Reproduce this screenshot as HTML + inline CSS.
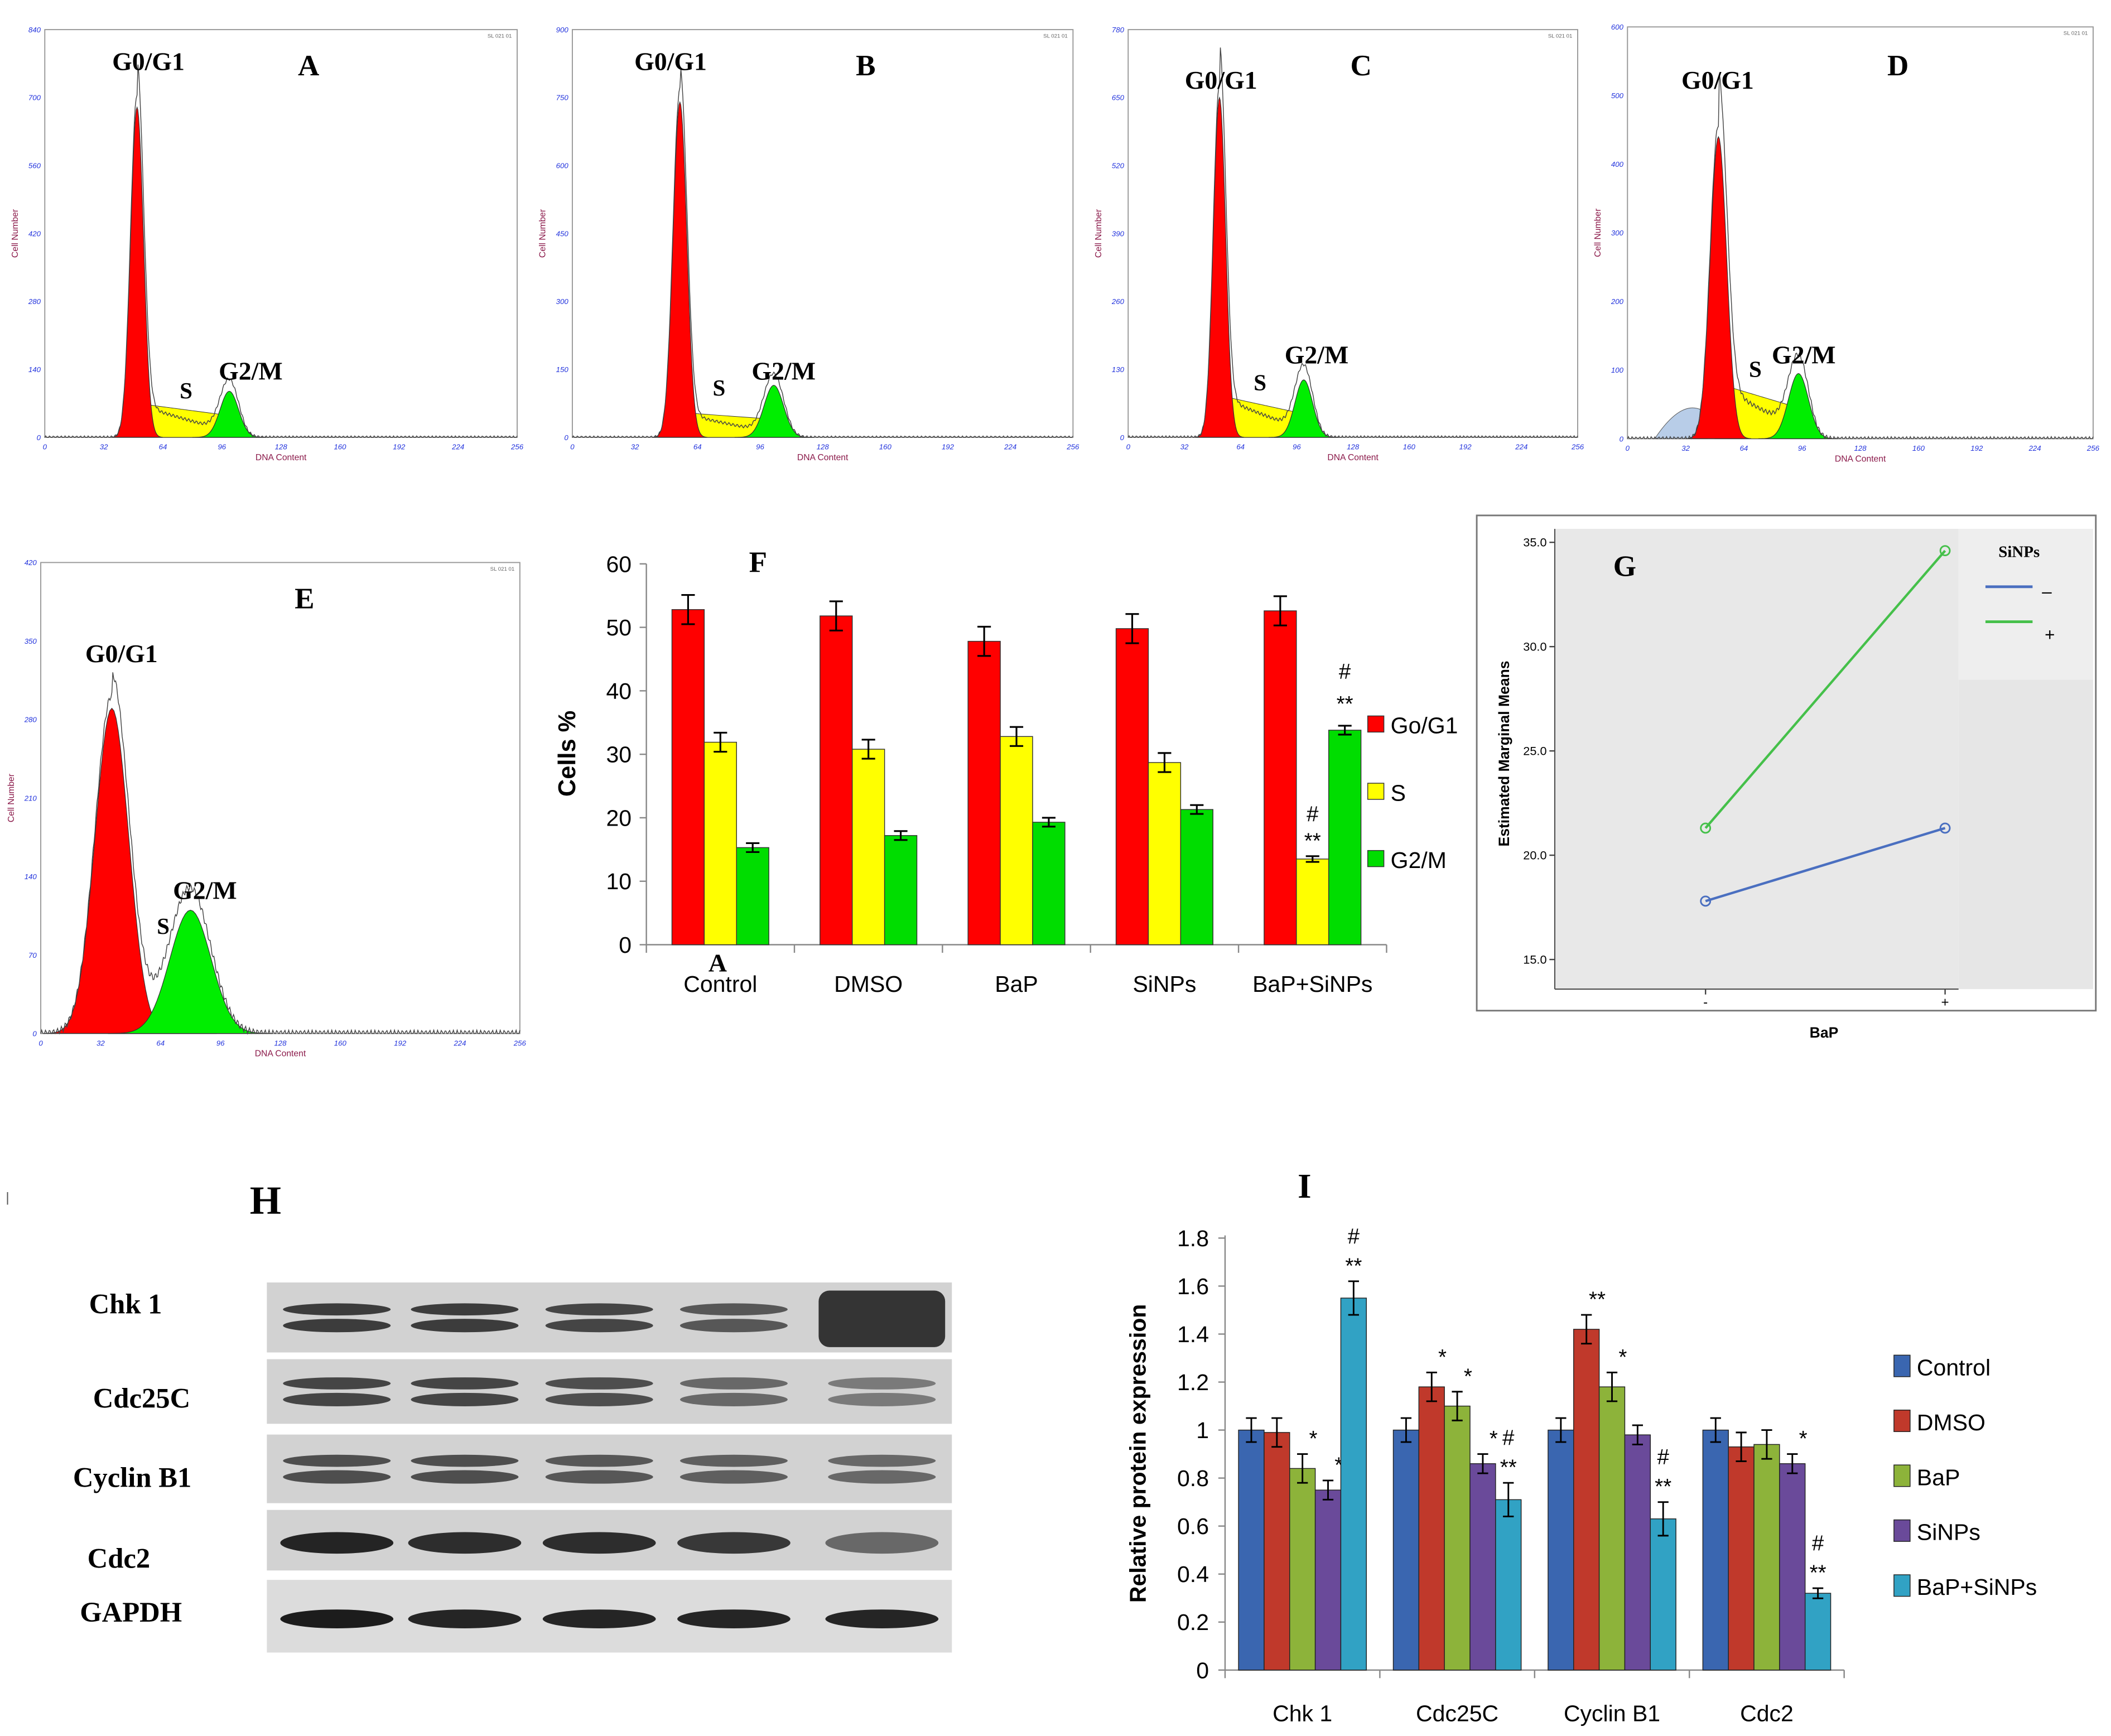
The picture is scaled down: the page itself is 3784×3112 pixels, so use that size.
<!DOCTYPE html>
<html><head><meta charset="utf-8">
<style>
html,body{margin:0;padding:0;background:#fff;}
svg{display:block;}
text{font-family:"Liberation Sans",sans-serif;}
.ser{font-family:"Liberation Serif",serif;font-weight:bold;}
</style></head>
<body>
<svg id="fig" width="3784" height="3112" viewBox="0 0 1568 1290" xmlns="http://www.w3.org/2000/svg">
<rect width="1568" height="1290" fill="#fff"/>
</svg>
<script>
// ---------- Data ----------
const histNames = ['A','B','C','D','E'];
const histYMax = [840, 900, 780, 600, 420];
const histG1Center = [50, 55, 52, 50, 38];
const histG1Height = [680, 740, 650, 440, 290];
const histG1Sigma = [3.5, 3.5, 3.5, 4.5, 9];
const histG2Center = [100, 103, 100, 94, 80];
const histG2Height = [95, 115, 110, 95, 110];
const histG2Sigma = [5, 5, 5, 5.5, 11];
const histSStart = [70, 55, 80, 80, 20];
const histSEnd = [45, 40, 45, 45, 10];
// F bar chart
const fCategories = ['Control','DMSO','BaP','SiNPs','BaP+SiNPs'];
const fG1 = [52.8, 51.8, 47.8, 49.8, 52.6];
const fS = [31.9, 30.8, 32.8, 28.7, 13.5];
const fG2 = [15.3, 17.2, 19.3, 21.3, 33.8];
const fErr = [2.3, 1.5, 0.7];
const fTicks = [0,10,20,30,40,50,60];
// G interaction plot
const gX = ['-','+'];
const gMinus = [17.8, 21.3];
const gPlus = [21.3, 34.6];
const gTicks = [15.0, 20.0, 25.0, 30.0, 35.0];
// I bar chart
const iCategories = ['Chk 1','Cdc25C','Cyclin B1','Cdc2'];
const iSeries = ['Control','DMSO','BaP','SiNPs','BaP+SiNPs'];
const iControl = [1, 1, 1, 1];
const iDMSO = [0.99, 1.18, 1.42, 0.93];
const iBaP = [0.84, 1.10, 1.18, 0.94];
const iSiNPs = [0.75, 0.86, 0.98, 0.86];
const iBoth = [1.55, 0.71, 0.63, 0.32];
const iErr = [0.05, 0.06, 0.06, 0.04, 0.07];
const iTicks = [0,0.2,0.4,0.6,0.8,1,1.2,1.4,1.6,1.8];
const iMarks = [['','','*','*','#\n**'],['','*','*','*','#\n**'],['','**','*','','#\n**'],['','','','*','#\n**']];

const svg = document.getElementById('fig');
const NS = 'http://www.w3.org/2000/svg';
function el(tag, attrs, parent, txt){
  const e = document.createElementNS(NS, tag);
  for (const k in attrs) e.setAttribute(k, attrs[k]);
  if (txt !== undefined) e.textContent = txt;
  (parent || svg).appendChild(e);
  return e;
}
function grp(name){
  const g = el('g', {});
  
  
  return g;
}

// ---------- Histograms ----------
const histBoxes = [[33,22,384,325],[425,22,797,325],[838,22,1172,325],[1209,20,1555,326],[30,418,386,768]];
const histLabelPos = [
  {g1:[110,52], s:[138,296], g2:[186,282], L:[229,56]},
  {g1:[498,52], s:[534,294], g2:[582,282], L:[643,56]},
  {g1:[907,66], s:[936,290], g2:[978,270], L:[1011,56]},
  {g1:[1276,66], s:[1304,280], g2:[1340,270], L:[1410,56]},
  {g1:[90,492], s:[121,694], g2:[152,668], L:[226,452]}
];
function gauss(x,c,s,h){return h*Math.exp(-0.5*((x-c)/s)**2);}
histNames.forEach((nm, i) => {
  const [x0,y0,x1,y1] = histBoxes[i];
  const g = grp('histogram-' + nm.toLowerCase());
  const sx = v => x0 + v/256*(x1-x0);
  const sy = v => y1 - v/histYMax[i]*(y1-y0);
  el('rect',{x:x0,y:y0,width:x1-x0,height:y1-y0,fill:'#fff',stroke:'#999','stroke-width':0.8},g);
  const c1 = histG1Center[i], c2 = histG2Center[i];
  const sPts = [];
  for (let v=c1-2; v<=c2+14; v+=1){
    const t = Math.min(1, Math.max(0,(v-c1)/(c2-c1)));
    let h = histSStart[i] + (histSEnd[i]-histSStart[i])*t;
    if (v > c2) h *= Math.max(0, 1-(v-c2)/14);
    sPts.push([v,h]);
  }
  el('path',{d:'M'+sx(c1-2)+','+sy(0)+' '+sPts.map(p=>'L'+sx(p[0])+','+sy(p[1])).join(' ')+' L'+sx(c2+14)+','+sy(0)+'Z',fill:'#ffff00',stroke:'#333','stroke-width':0.4},g);
  if (i===3){
    el('path',{d:`M${sx(15)},${sy(0)} Q${sx(30)},${sy(60)} ${sx(42)},${sy(40)} L${sx(44)},${sy(0)}Z`,fill:'#b8cde8',stroke:'#555','stroke-width':0.4},g);
  }
  const drawPeak = (c,s,h,col,name)=>{
    let d = '';
    for (let v=c-4*s; v<=c+4*s; v+=s/8){ d += (d?'L':'M')+sx(v).toFixed(2)+','+sy(gauss(v,c,s,h)).toFixed(2)+' '; }
    const p = el('path',{d:d+'Z',fill:col,stroke:'#333','stroke-width':0.5},g);
    
    
  };
  drawPeak(c1, histG1Sigma[i], histG1Height[i], '#ff0000', 'g0g1-peak');
  drawPeak(c2, histG2Sigma[i], histG2Height[i], '#00ee00', 'g2m-peak');
  let d='';
  for (let v=0; v<=256; v+=0.5){
    let h = gauss(v,c1,histG1Sigma[i],histG1Height[i]*1.04)+gauss(v,c2,histG2Sigma[i],histG2Height[i]*1.15);
    if (v>c1 && v<c2+10) h += histSStart[i]*0.95*Math.max(0,1-(v-c1)/(c2-c1+10));
    h += 3*Math.sin(v*3);
    d += (d?'L':'M')+sx(v).toFixed(2)+','+sy(Math.max(0,h)).toFixed(2)+' ';
  }
  el('path',{d,fill:'none',stroke:'#444','stroke-width':0.6},g);
  for (let k=0;k<=6;k++){
    const val = histYMax[i]/6*k;
    el('text',{x:x0-3,y:sy(val)+2,'font-size':5.5,fill:'#2233dd','text-anchor':'end','font-style':'italic'},g,Math.round(val));
  }
  for (let k=0;k<=8;k++){
    el('text',{x:sx(k*32),y:y1+9,'font-size':5.5,fill:'#2233dd','text-anchor':'middle','font-style':'italic'},g,k*32);
  }
  el('text',{x:(x0+x1)/2,y:y1+17,'font-size':6.5,fill:'#8b1a4a','text-anchor':'middle'},g,'DNA Content');
  el('text',{x:x0-20,y:(y0+y1)/2,'font-size':6.5,fill:'#8b1a4a','text-anchor':'middle',transform:`rotate(-90 ${x0-20} ${(y0+y1)/2})`},g,'Cell Number');
  el('text',{x:x1-4,y:y0+6,'font-size':4,fill:'#666','text-anchor':'end'},g,'SL 021 01');
  const L = histLabelPos[i];
  el('text',{x:L.g1[0],y:L.g1[1],'font-size':19,'text-anchor':'middle',class:'ser'},g,'G0/G1');
  el('text',{x:L.s[0],y:L.s[1],'font-size':17,'text-anchor':'middle',class:'ser'},g,'S');
  el('text',{x:L.g2[0],y:L.g2[1],'font-size':19,'text-anchor':'middle',class:'ser'},g,'G2/M');
  el('text',{x:L.L[0],y:L.L[1],'font-size':22,'text-anchor':'middle',class:'ser'},g,nm);
});

// ---------- F ----------
(function(){
  const g = grp('chart-f');
  const X0=480, X1=1030, Y0=702, Y60=419;
  const sy = v => Y0 - v/60*(Y0-Y60);
  const gw = (X1-X0)/fCategories.length;
  el('line',{x1:X0,y1:Y60,x2:X0,y2:Y0,stroke:'#888','stroke-width':1},g);
  el('line',{x1:X0,y1:Y0,x2:X1,y2:Y0,stroke:'#888','stroke-width':1},g);
  fTicks.forEach(t=>{
    el('line',{x1:X0-5,y1:sy(t),x2:X0,y2:sy(t),stroke:'#888'},g);
    el('text',{x:X0-11,y:sy(t)+6,'font-size':17,'text-anchor':'end'},g,t);
  });
  for (let k=0;k<=fCategories.length;k++) el('line',{x1:X0+k*gw,y1:Y0,x2:X0+k*gw,y2:Y0+6,stroke:'#888'},g);
  const series=[fG1,fS,fG2], cols=['#ff0000','#ffff00','#00dd00'], bw=24;
  fCategories.forEach((c,ci)=>{
    const cx = X0+gw*(ci+0.5);
    series.forEach((s,si)=>{
      const bx = cx + (si-1)*bw - bw/2;
      const r = el('rect',{x:bx,y:sy(s[ci]),width:bw,height:Y0-sy(s[ci]),fill:cols[si],stroke:'#333','stroke-width':0.6},g);
      
      
      const e=fErr[si]*(ci===4&&si===1?0.3:1), mx=bx+bw/2;
      el('path',{d:`M${mx},${sy(s[ci]+e)}V${sy(s[ci]-e)}M${mx-5},${sy(s[ci]+e)}h10M${mx-5},${sy(s[ci]-e)}h10`,stroke:'#000','stroke-width':1.3,fill:'none'},g);
    });
    el('text',{x:cx,y:Y0+35,'font-size':17,'text-anchor':'middle'},g,c);
  });
  const cx4 = X0+gw*4.5;
  el('text',{x:cx4,y:sy(fS[4])-28,'font-size':16,'text-anchor':'middle'},g,'#');
  el('text',{x:cx4,y:sy(fS[4])-8,'font-size':16,'text-anchor':'middle'},g,'**');
  el('text',{x:cx4+bw,y:sy(fG2[4])-38,'font-size':16,'text-anchor':'middle'},g,'#');
  el('text',{x:cx4+bw,y:sy(fG2[4])-14,'font-size':16,'text-anchor':'middle'},g,'**');
  el('text',{x:533,y:722,'font-size':19,'text-anchor':'middle',class:'ser'},g,'A');
  el('text',{x:563,y:425,'font-size':22,'text-anchor':'middle',class:'ser'},g,'F');
  el('text',{x:427,y:560,'font-size':18,'font-weight':'bold','text-anchor':'middle',transform:'rotate(-90 427 560)'},g,'Cells %');
  ['Go/G1','S','G2/M'].forEach((t,k)=>{
    const ly=[539,589,639][k];
    const lg = el('g',{},g);
    
    
    el('rect',{x:1016,y:ly-7,width:12,height:12,fill:cols[k],stroke:'#333','stroke-width':0.6},lg);
    el('text',{x:1033,y:ly+6,'font-size':17},lg,t);
  });
})();

// ---------- G ----------
(function(){
  const g = grp('chart-g');
  el('rect',{x:1097,y:383,width:460,height:368,fill:'#fff',stroke:'#777','stroke-width':1.2},g);
  el('rect',{x:1155,y:393,width:300,height:342,fill:'#e8e8e8'},g);
  el('rect',{x:1455,y:393,width:100,height:112,fill:'#eeeeee'},g);
  el('rect',{x:1455,y:505,width:100,height:230,fill:'#e6e6e6'},g);
  const sy = v => 713 - (v-15)/20*(713-403);
  const sx = k => [1267,1445][k];
  el('line',{x1:1155,y1:393,x2:1155,y2:735,stroke:'#444','stroke-width':0.8},g);
  el('line',{x1:1155,y1:735,x2:1455,y2:735,stroke:'#444','stroke-width':0.8},g);
  gTicks.forEach(t=>{
    el('line',{x1:1151,y1:sy(t),x2:1155,y2:sy(t),stroke:'#444'},g);
    el('text',{x:1149,y:sy(t)+3,'font-size':9,'text-anchor':'end'},g,t.toFixed(1));
  });
  gX.forEach((t,k)=>{
    el('line',{x1:sx(k),y1:735,x2:sx(k),y2:739,stroke:'#444'},g);
    el('text',{x:sx(k),y:748,'font-size':10,'text-anchor':'middle'},g,t);
  });
  [[gMinus,'#4a6fc0'],[gPlus,'#45c04a']].forEach(([s,c],k)=>{
    const l=el('line',{x1:sx(0),y1:sy(s[0]),x2:sx(1),y2:sy(s[1]),stroke:c,'stroke-width':1.8},g);
    
    
    s.forEach((v,j)=>el('circle',{cx:sx(j),cy:sy(v),r:3.5,fill:'none',stroke:c,'stroke-width':1.2},g));
  });
  el('text',{x:1500,y:414,'font-size':12,'text-anchor':'middle',class:'ser'},g,'SiNPs');
  el('line',{x1:1475,y1:436,x2:1510,y2:436,stroke:'#4a6fc0','stroke-width':2},g);
  el('text',{x:1517,y:444,'font-size':13},g,'–');
  el('line',{x1:1475,y1:462,x2:1510,y2:462,stroke:'#45c04a','stroke-width':2},g);
  el('text',{x:1519,y:476,'font-size':13},g,'+');
  el('text',{x:1121,y:560,'font-size':11,'font-weight':'bold','text-anchor':'middle',transform:'rotate(-90 1121 560)'},g,'Estimated Marginal Means');
  el('text',{x:1355,y:771,'font-size':11,'font-weight':'bold','text-anchor':'middle'},g,'BaP');
  el('text',{x:1207,y:428,'font-size':22,'text-anchor':'middle',class:'ser'},g,'G');
})();

// ---------- H ----------
(function(){
  const g = grp('western-blot-h');
  el('text',{x:197,y:902,'font-size':30,'text-anchor':'middle',class:'ser'},g,'H');
  el('text',{x:4,y:893,'font-size':10,fill:'#555'},g,'|');
  const rows=[['Chk 1',93,976,953,1005],['Cdc25C',105,1046,1010,1058],['Cyclin B1',98,1105,1066,1117],['Cdc2',88,1165,1122,1167],['GAPDH',97,1205,1174,1228]];
  const lanes=[250,345,445,545,655];
  const intens=[[0.85,0.85,0.8,0.7,1.0],[0.8,0.8,0.75,0.6,0.5],[0.75,0.75,0.7,0.65,0.6],[0.9,0.85,0.85,0.8,0.55],[0.95,0.9,0.9,0.9,0.9]];
  rows.forEach((r,ri)=>{
    el('text',{x:r[1],y:r[2],'font-size':21,'text-anchor':'middle',class:'ser'},g,r[0]);
    el('rect',{x:198,y:r[3],width:509,height:r[4]-r[3],fill:ri===4?'#dcdcdc':'#d2d2d2'},g);
    lanes.forEach((lx,li)=>{
      const a=intens[ri][li], mid=(r[3]+r[4])/2;
      if (ri===0 && li===4){ el('rect',{x:lx-47,y:r[3]+6,width:94,height:r[4]-r[3]-10,rx:8,fill:'#222',opacity:0.9},g); return; }
      if (ri<3){
        el('ellipse',{cx:lx,cy:mid-6,rx:40,ry:4.5,fill:'#222',opacity:a},g);
        el('ellipse',{cx:lx,cy:mid+6,rx:40,ry:5,fill:'#222',opacity:a},g);
      } else {
        el('ellipse',{cx:lx,cy:mid+2,rx:42,ry:ri===4?7:8,fill:'#111',opacity:a},g);
      }
    });
  });
})();

// ---------- I ----------
(function(){
  const g = grp('chart-i');
  const X0=910, X1=1370, Y0=1241, Ytop=920;
  const sy = v => Y0 - v/1.8*(Y0-Ytop);
  const gw=(X1-X0)/4;
  el('line',{x1:X0,y1:Ytop-2,x2:X0,y2:Y0,stroke:'#888'},g);
  el('line',{x1:X0,y1:Y0,x2:X1,y2:Y0,stroke:'#888'},g);
  iTicks.forEach(t=>{
    el('line',{x1:X0-5,y1:sy(t),x2:X0,y2:sy(t),stroke:'#888'},g);
    el('text',{x:X0-12,y:sy(t)+6,'font-size':17,'text-anchor':'end'},g,t);
  });
  for(let k=0;k<=4;k++) el('line',{x1:X0+k*gw,y1:Y0,x2:X0+k*gw,y2:Y0+6,stroke:'#888'},g);
  const series=[iControl,iDMSO,iBaP,iSiNPs,iBoth];
  const cols=['#3a66b0','#c0392b','#8db33a','#6a4a9a','#31a2c4'];
  const bw=19;
  iCategories.forEach((c,ci)=>{
    const cx=X0+gw*(ci+0.5);
    series.forEach((s,si)=>{
      const bx=cx+(si-2)*bw-bw/2, v=s[ci];
      const r=el('rect',{x:bx,y:sy(v),width:bw,height:Y0-sy(v),fill:cols[si],stroke:'#222','stroke-width':0.6},g);
      
      
      const e=iErr[si]*(si===4&&v<0.5?0.3:1), mx=bx+bw/2;
      el('path',{d:`M${mx},${sy(v+e)}V${sy(v-e)}M${mx-4},${sy(v+e)}h8M${mx-4},${sy(v-e)}h8`,stroke:'#000','stroke-width':1.2,fill:'none'},g);
      const m=iMarks[ci][si];
      if(m){
        const parts=m.split('\n');
        const top=sy(v+e);
        parts.reverse().forEach((p,pi)=>el('text',{x:mx+(si===4?0:8),y:top-6-pi*22,'font-size':16,'text-anchor':'middle'},g,p));
      }
    });
    el('text',{x:cx,y:1279,'font-size':17,'text-anchor':'middle'},g,c);
  });
  el('text',{x:851,y:1080,'font-size':17,'font-weight':'bold','text-anchor':'middle',transform:'rotate(-90 851 1080)'},g,'Relative protein expression');
  el('text',{x:969,y:890,'font-size':26,'text-anchor':'middle',class:'ser'},g,'I');
  iSeries.forEach((t,k)=>{
    const ly=1015+k*40.8;
    const lg=el('g',{},g);
    
    
    el('rect',{x:1407,y:ly-8,width:12,height:16,fill:cols[k],stroke:'#222','stroke-width':0.6},lg);
    el('text',{x:1424,y:ly+7,'font-size':17},lg,t);
  });
})();
</script>
</body></html>
